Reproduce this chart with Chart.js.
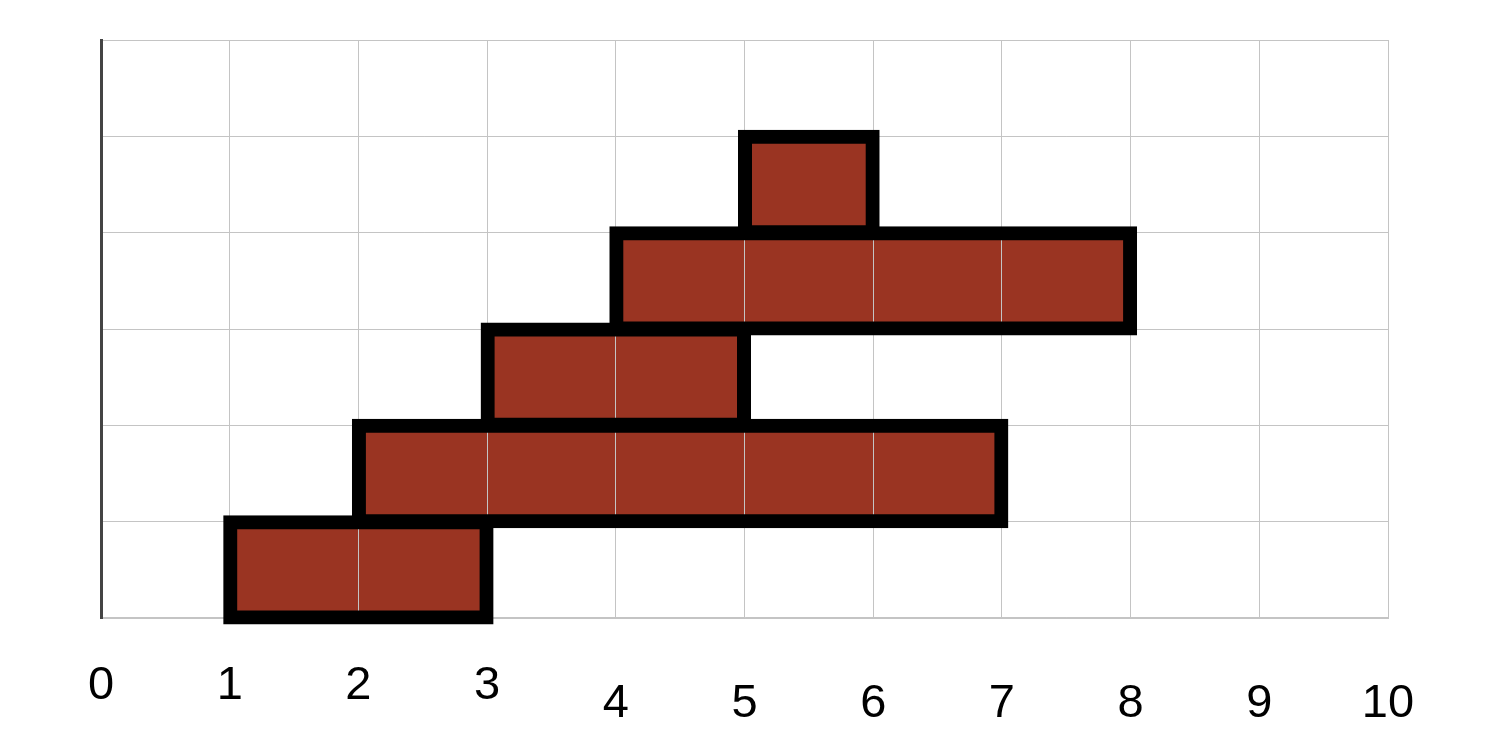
<!DOCTYPE html>
<html lang="en">

<head>
    <meta charset="UTF-8" />
    <title>Floating Bars</title>
    <script src="https://cdn.jsdelivr.net/npm/chart.js"></script>
    <style>
        body {
            margin: 0;
            background-color: #fff;
        }

        .container {
            width: 1502px;
            height: 742px;
        }
    </style>
</head>

<body>
    <div class="container">
        <canvas id="barChart"></canvas>
    </div>

    <script>
        // rows from bottom to top, the last row is empty
        const rows = ['r1', 'r2', 'r3', 'r4', 'r5', 'r6'];
        const starts = [1, 2, 3, 4, 5, null];
        const ends = [3, 7, 5, 8, 6, null];
        const xTicks = [0, 1, 2, 3, 4, 5, 6, 7, 8, 9, 10];

        const spans = rows.map((r, i) => starts[i] === null ? null : [starts[i], ends[i]]);

        const gridColor = '#c4c4c4';

        // grid goes over the red fill but under the black outlines
        const gridOverFill = {
            id: 'gridOverFill',
            afterDatasetDraw(chart, args) {
                if (args.index !== 1) return;
                chart.ctx.save();
                chart.scales.x.drawGrid(chart.chartArea);
                chart.scales.y.drawGrid(chart.chartArea);
                chart.ctx.restore();
            }
        };

        const ctx = document.getElementById('barChart').getContext('2d');
        new Chart(ctx, {
            type: 'bar',
            data: {
                labels: rows,
                datasets: [
                    {
                        // outline: border 1 + inflate on both sides -> ~13px band centred on the edge
                        label: 'outline',
                        data: spans,
                        backgroundColor: 'rgba(0,0,0,0)',
                        borderColor: '#000',
                        borderWidth: 1,
                        borderSkipped: false,
                        inflateAmount: 6.5,
                        grouped: false,
                        clip: false,
                        barPercentage: 1,
                        categoryPercentage: 1
                    },
                    {
                        label: 'fill',
                        data: spans,
                        backgroundColor: '#9a3422',
                        borderWidth: 0,
                        inflateAmount: 0,
                        grouped: false,
                        barPercentage: 1,
                        categoryPercentage: 1
                    }
                ]
            },
            options: {
                indexAxis: 'y',
                responsive: true,
                maintainAspectRatio: false,
                animation: false,
                layout: {
                    padding: { left: 101, right: 114, top: 40, bottom: 0 }
                },
                plugins: {
                    legend: { display: false },
                    tooltip: { enabled: false }
                },
                scales: {
                    x: {
                        type: 'linear',
                        min: 0,
                        max: 10,
                        afterBuildTicks: axis => {
                            axis.ticks = xTicks.map(v => ({ value: v }));
                        },
                        afterFit: axis => {
                            axis.height = 124;
                        },
                        grid: {
                            color: c => (c.tick && c.tick.value === 0) ? 'rgba(0,0,0,0)' : gridColor,
                            lineWidth: 1,
                            drawTicks: false
                        },
                        border: { color: gridColor, width: 1 },
                        ticks: {
                            padding: 40,
                            color: '#000',
                            maxRotation: 0,
                            autoSkip: false,
                            font: c => ({
                                family: 'Liberation Sans',
                                size: 47,
                                lineHeight: (c.tick && c.tick.value >= 4) ? 1.96 : 1.2
                            })
                        }
                    },
                    y: {
                        reverse: true,
                        afterFit: axis => {
                            axis.width = 0;
                        },
                        grid: {
                            color: gridColor,
                            lineWidth: 1,
                            drawTicks: false
                        },
                        border: { color: '#444', width: 3 },
                        ticks: { display: false }
                    }
                }
            },
            plugins: [gridOverFill]
        });
    </script>
</body>

</html>
